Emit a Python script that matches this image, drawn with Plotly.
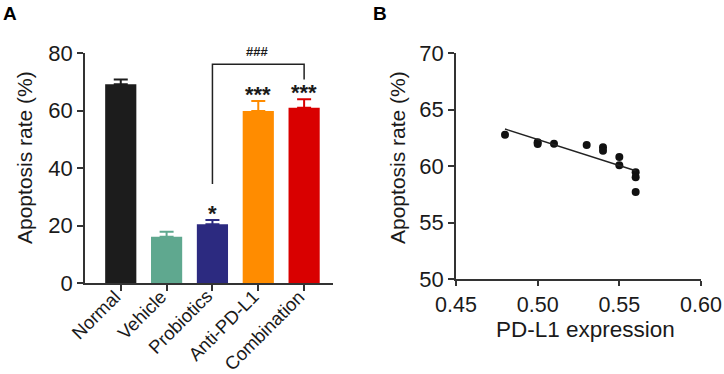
import numpy as np
import plotly.graph_objects as go

# ---------------- Data ----------------
groups = ["Normal", "Vehicle", "Probiotics", "Anti-PD-L1", "Combination"]
rates = [69.1, 16.1, 20.4, 59.8, 61.0]
rate_err = [1.7, 1.7, 1.5, 3.5, 2.9]
bar_colors = ["#1c1c1c", "#5fa88f", "#2c2a80", "#ff8c00", "#d90000"]
sig_marks = ["", "", "*", "***", "***"]

bracket_x = ["Probiotics", "Probiotics", "Combination", "Combination"]
bracket_y = [34.4, 76.1, 76.1, 70.8]
bracket_label = "###"

pdl1 = [0.48, 0.50, 0.50, 0.51, 0.53, 0.54, 0.54, 0.55, 0.55, 0.56, 0.56, 0.56]
apop = [62.77, 62.1, 61.95, 61.98, 61.86, 61.65, 61.36, 60.8, 60.06, 59.44, 59.0, 57.7]

y_ticks_a = [0, 20, 40, 60, 80]
y_ticks_b = [50, 55, 60, 65, 70]
x_ticks_b = [0.45, 0.50, 0.55, 0.60]

FONT = "Liberation Sans, Arial, sans-serif"
TXT = "#1a1a1a"
AX = "#333333"

W, H = 724, 374

def px_x(p):
    return p / W

def px_y(p):
    return 1 - p / H

fig = go.Figure()

# Panel A bars
fig.add_trace(go.Bar(
    x=groups, y=rates,
    marker=dict(color=bar_colors, line=dict(width=0)),
    width=0.68,
    xaxis="x", yaxis="y", showlegend=False,
))
# per-bar coloured error bars (upper only)
for g, v, e, c in zip(groups, rates, rate_err, bar_colors):
    fig.add_trace(go.Scatter(
        x=[g], y=[v], mode="markers", marker=dict(size=1, color=c, opacity=0),
        error_y=dict(type="data", symmetric=False, array=[e], arrayminus=[0],
                     thickness=2, width=7, color=c),
        xaxis="x", yaxis="y", showlegend=False, hoverinfo="skip",
    ))

# bracket
fig.add_trace(go.Scatter(
    x=bracket_x, y=bracket_y, mode="lines",
    line=dict(color="#222222", width=1.5),
    xaxis="x", yaxis="y", showlegend=False, hoverinfo="skip",
))

# Panel B scatter
fig.add_trace(go.Scatter(
    x=pdl1, y=apop, mode="markers",
    marker=dict(size=8, color="#111111"),
    xaxis="x2", yaxis="y2", showlegend=False,
))
slope, intercept = np.polyfit(pdl1, apop, 1)
fx = [min(pdl1), max(pdl1)]
fy = [slope * v + intercept for v in fx]
fig.add_trace(go.Scatter(
    x=fx, y=fy, mode="lines", line=dict(color="#222222", width=1.4),
    xaxis="x2", yaxis="y2", showlegend=False,
))

axis_common = dict(
    showgrid=False, zeroline=False, showline=True, linecolor=AX, linewidth=1.6,
    ticks="outside", ticklen=6, tickwidth=1.6, tickcolor=AX,
    tickfont=dict(family=FONT, size=22, color=TXT), automargin=False,
)

def ax(**kw):
    d = dict(axis_common)
    d.update(kw)
    return d

fig.update_layout(
    width=W, height=H,
    margin=dict(l=0, r=0, t=0, b=0),
    paper_bgcolor="white", plot_bgcolor="white",
    font=dict(family=FONT, color=TXT),
    xaxis=ax(domain=[px_x(85), px_x(333)], range=[-0.78, 4.63],
             showticklabels=False, anchor="y"),
    yaxis=ax(domain=[px_y(283), px_y(53)], range=[0, 80],
             tickvals=y_ticks_a, anchor="x"),
    xaxis2=ax(domain=[px_x(456), px_x(701)], range=[0.45, 0.60],
              tickvals=x_ticks_b, ticktext=[f"{v:.2f}" for v in x_ticks_b],
              ticklen=5, tickfont=dict(family=FONT, size=21.5, color=TXT),
              anchor="y2"),
    yaxis2=ax(domain=[px_y(279), px_y(53)], range=[50, 70],
              tickvals=y_ticks_b, anchor="x2"),
)

ann = []
# rotated category labels
for g in groups:
    ann.append(dict(x=g, y=px_y(283), xref="x", yref="paper", text=g,
                    textangle=-45, showarrow=False, xanchor="right",
                    yanchor="top", xshift=7,
                    font=dict(family=FONT, size=18.5, color=TXT)))
# significance stars
for g, v, e, s in zip(groups, rates, rate_err, sig_marks):
    if s:
        ann.append(dict(x=g, y=v + e, xref="x", yref="y", text=f"<b>{s}</b>",
                        showarrow=False, xanchor="center", yanchor="bottom",
                        yshift=-8,
                        font=dict(family=FONT, size=22, color=TXT)))
ann.append(dict(x=2.98, y=bracket_y[1], xref="x", yref="y",
                text=f"<b>{bracket_label}</b>", showarrow=False,
                xanchor="center", yanchor="bottom", yshift=3,
                font=dict(family=FONT, size=13, color=TXT)))
# axis titles
ann.append(dict(x=px_x(24), y=px_y(158), xref="paper", yref="paper",
                text="Apoptosis rate (%)", textangle=-90, showarrow=False,
                xanchor="center", yanchor="middle",
                font=dict(family=FONT, size=21, color=TXT)))
ann.append(dict(x=px_x(397), y=px_y(158), xref="paper", yref="paper",
                text="Apoptosis rate (%)", textangle=-90, showarrow=False,
                xanchor="center", yanchor="middle",
                font=dict(family=FONT, size=21, color=TXT)))
ann.append(dict(x=px_x(585), y=px_y(329), xref="paper", yref="paper",
                text="PD-L1 expression", showarrow=False,
                xanchor="center", yanchor="middle",
                font=dict(family=FONT, size=22.5, color=TXT)))
# panel letters
ann.append(dict(x=px_x(1), y=px_y(1), xref="paper", yref="paper",
                xanchor="left", yanchor="top", text="<b>A</b>", showarrow=False,
                font=dict(family=FONT, size=19, color="#000")))
ann.append(dict(x=px_x(371), y=px_y(1), xref="paper", yref="paper",
                xanchor="left", yanchor="top", text="<b>B</b>", showarrow=False,
                font=dict(family=FONT, size=19, color="#000")))
fig.update_layout(annotations=ann)

fig.write_html(
    "out.html",
    config={"displayModeBar": False},
    post_script="document.body.style.margin='0';document.body.style.overflow='hidden';",
)
